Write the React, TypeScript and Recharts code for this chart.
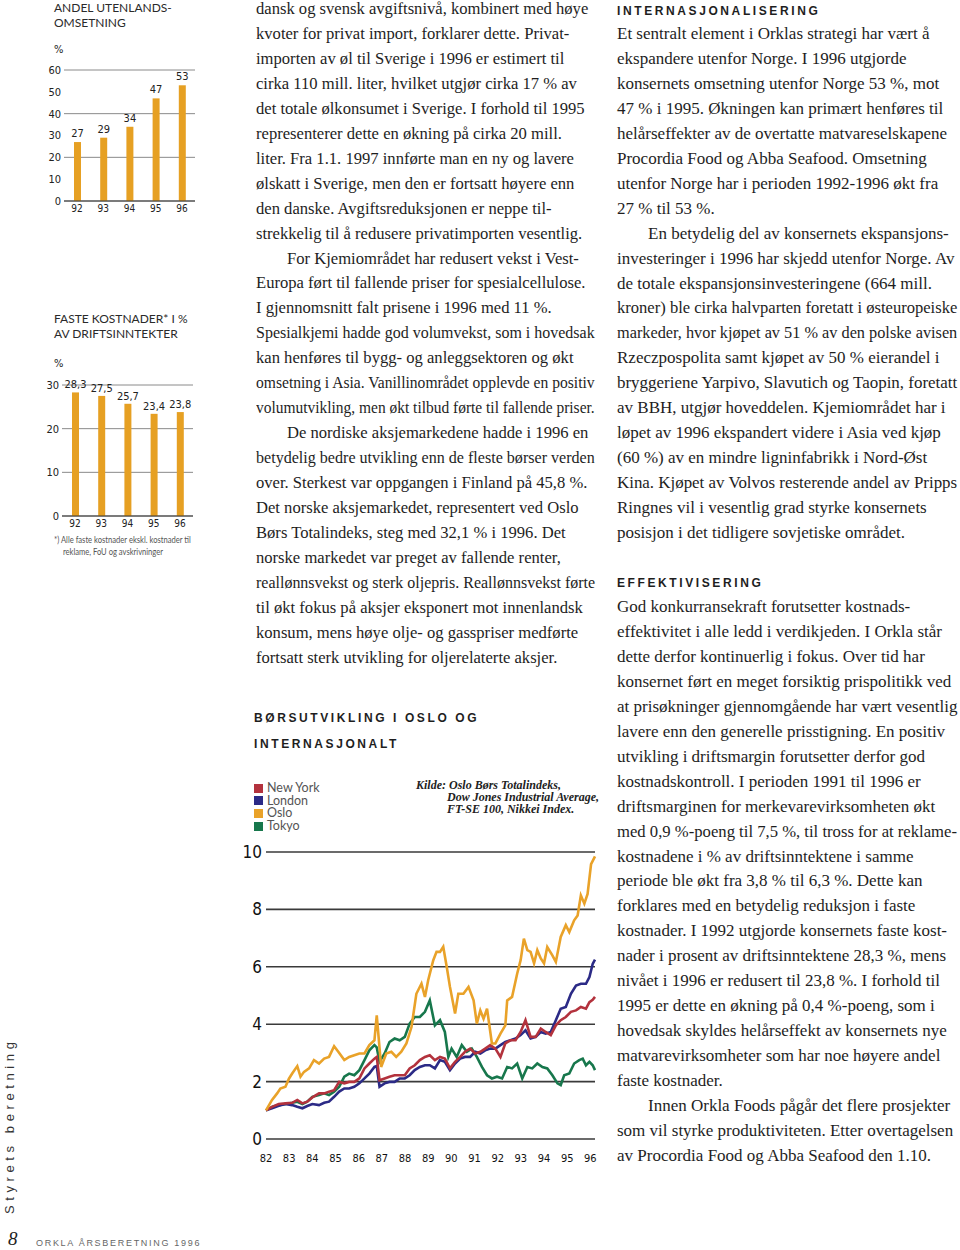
import React, { useLayoutEffect, useRef } from 'react';
import {
  BarChart,
  Bar,
  LineChart,
  Line,
  XAxis,
  YAxis,
  CartesianGrid,
  LabelList,
  ReferenceLine,
} from 'recharts';

// bar charts
const barYears = ['92', '93', '94', '95', '96'];
const foreignSales = [27, 29, 34, 47, 53];
const fixedCosts = [28.3, 27.5, 25.7, 23.4, 23.8];

// stock index chart (index, 1982 = 1)
const indexYears = [82, 83, 84, 85, 86, 87, 88, 89, 90, 91, 92, 93, 94, 95, 96];
const commonDates = [
  82.0, 82.26, 82.55, 82.84, 83.13, 83.35, 83.57, 83.78, 84.0, 84.29, 84.51, 84.72,
  84.94, 85.16, 85.38, 85.59, 85.81, 86.03, 86.25, 86.46, 86.68, 86.78,
  86.9, 87.12, 87.33, 87.55, 87.77, 87.99, 88.2, 88.42, 88.64, 88.86, 89.07, 89.29,
  89.51, 89.72, 89.94, 90.16, 90.38, 90.59, 90.81, 91.03, 91.25, 91.46, 91.68, 91.9,
  92.12, 92.33, 92.55, 92.77, 92.99, 93.2, 93.42, 93.64, 93.86, 94.07, 94.29,
  94.51, 94.72, 94.94, 95.16, 95.38, 95.59, 95.81, 95.96, 96.1, 96.2,
];
const london = [
  1.0, 1.07, 1.16, 1.22, 1.18, 1.12, 1.07, 1.15, 1.22, 1.18, 1.26, 1.3,
  1.47, 1.65, 1.76, 1.76, 1.82, 1.94, 2.11, 2.28, 2.51, 2.54,
  1.82, 1.94, 1.99, 1.99, 2.11, 2.11, 2.22, 2.4, 2.51, 2.57, 2.57, 2.46,
  2.75, 2.69, 2.4, 2.63, 2.8, 2.86, 2.86, 3.04, 2.98, 3.09, 3.15, 3.15,
  3.27, 3.38, 3.44, 3.5, 3.62, 3.79, 3.5, 3.56, 3.73, 3.67, 3.73,
  4.14, 4.54, 4.6, 5.06, 5.35, 5.41, 5.41, 5.64, 6.1, 6.25,
];
const newYork = [
  1.0, 1.12, 1.22, 1.24, 1.26, 1.36, 1.24, 1.3, 1.45, 1.59, 1.59, 1.65,
  1.7, 1.99, 1.94, 1.99, 1.99, 2.11, 2.46, 2.63, 2.8, 2.86,
  2.05, 2.11, 2.17, 2.22, 2.22, 2.22, 2.46, 2.57, 2.75, 2.86, 2.92, 2.75,
  2.86, 2.8, 2.46, 2.69, 2.86, 3.04, 3.15, 2.98, 3.04, 3.15, 3.27, 3.15,
  2.86, 3.33, 3.44, 3.44, 3.73, 4.14, 3.56, 3.56, 3.85, 3.73, 3.62,
  3.96, 4.14, 4.25, 4.43, 4.48, 4.6, 4.54, 4.77, 4.85, 4.95,
];
const tokyoDates = [
  82.0, 82.26, 82.55, 82.84, 83.13, 83.35, 83.57, 83.78, 84.0, 84.29, 84.51, 84.72,
  84.94, 85.16, 85.38, 85.59, 85.81, 86.03, 86.25, 86.46, 86.68, 86.78,
  86.9, 87.12, 87.33, 87.55, 87.77, 87.99, 88.2, 88.42, 88.64, 88.86, 89.07, 89.29,
  89.51, 89.72, 89.87, 90.01, 90.23, 90.45, 90.67, 90.88, 91.1, 91.32, 91.54,
  91.75, 91.97, 92.19, 92.41, 92.62, 92.84, 93.06, 93.28, 93.49, 93.71,
  93.93, 94.14, 94.36, 94.58, 94.72, 94.87, 95.09, 95.3, 95.52, 95.67,
  95.81, 95.96, 96.1, 96.2,
];
const tokyo = [
  1.0, 1.12, 1.18, 1.22, 1.26, 1.3, 1.22, 1.3, 1.47, 1.53, 1.59, 1.53,
  1.65, 1.82, 2.17, 2.28, 2.22, 2.4, 2.75, 3.09, 3.27, 3.19,
  2.69, 2.98, 3.38, 3.5, 3.44, 3.56, 4.02, 4.25, 4.25, 4.43, 4.83, 3.96,
  4.14, 3.73, 2.86, 3.15, 2.86, 3.27, 3.04, 3.15, 2.86, 2.51, 2.22,
  2.11, 2.17, 2.11, 2.51, 2.46, 2.63, 2.11, 2.51, 2.46, 2.63,
  2.51, 2.46, 2.22, 1.94, 1.88, 2.22, 2.28, 2.63, 2.75, 2.8,
  2.57, 2.69, 2.57, 2.4,
];
const osloDates = [
  82.0, 82.26, 82.48, 82.62, 82.84, 82.99, 83.13, 83.35, 83.49, 83.64,
  83.86, 84.07, 84.29, 84.51, 84.72, 84.94, 85.16, 85.38, 85.59, 85.81,
  86.03, 86.25, 86.46, 86.68, 86.78, 86.97, 87.19, 87.41, 87.62, 87.84,
  88.06, 88.28, 88.49, 88.71, 88.86, 89.0, 89.22, 89.36, 89.51, 89.65,
  89.8, 89.94, 90.16, 90.3, 90.52, 90.74, 90.96, 91.1, 91.25, 91.39,
  91.54, 91.75, 91.9, 92.12, 92.33, 92.41, 92.62, 92.84, 92.99, 93.13,
  93.28, 93.42, 93.57, 93.71, 93.86, 94.0, 94.14, 94.36, 94.51, 94.72,
  94.94, 95.09, 95.3, 95.45, 95.59, 95.74, 95.88, 96.03, 96.2,
];
const oslo = [
  1.0, 1.36, 1.59, 1.76, 1.82, 2.1, 2.28, 2.54, 2.17, 2.34,
  2.46, 2.75, 2.63, 2.8, 2.86, 3.23, 3.0, 2.75, 2.86, 2.92,
  2.98, 2.98, 3.27, 3.44, 4.31, 2.51, 2.98, 3.04, 2.86, 3.04,
  3.33, 3.9, 5.06, 5.41, 4.95, 5.53, 6.23, 6.52, 6.52, 6.7,
  6.0, 5.3, 4.37, 5.06, 5.06, 5.3, 4.83, 4.02, 4.48, 4.19,
  4.54, 3.33, 3.33, 3.67, 3.96, 4.83, 4.95, 5.76, 6.23, 6.98,
  6.58, 6.52, 6.12, 6.58, 6.29, 6.12, 6.69, 6.4, 6.17, 7.04,
  7.45, 7.21, 7.62, 7.79, 8.49, 8.2, 8.54, 9.58, 9.85,
];

const middleText = [
  'dansk og svensk avgiftsnivå, kombinert med høye',
  'kvoter for privat import, forklarer dette. Privat-',
  'importen av øl til Sverige i 1996 er estimert til',
  'cirka 110 mill. liter, hvilket utgjør cirka 17 % av',
  'det totale ølkonsumet i Sverige. I forhold til 1995',
  'representerer dette en økning på cirka 20 mill.',
  'liter. Fra 1.1. 1997 innførte man en ny og lavere',
  'ølskatt i Sverige, men den er fortsatt høyere enn',
  'den danske. Avgiftsreduksjonen er neppe til-',
  'strekkelig til å redusere privatimporten vesentlig.',
  'For Kjemiområdet har redusert vekst i Vest-',
  'Europa ført til fallende priser for spesialcellulose.',
  'I gjennomsnitt falt prisene i 1996 med 11 %.',
  'Spesialkjemi hadde god volumvekst, som i hovedsak',
  'kan henføres til bygg- og anleggsektoren og økt',
  'omsetning i Asia. Vanillinområdet opplevde en positiv',
  'volumutvikling, men økt tilbud førte til fallende priser.',
  'De nordiske aksjemarkedene hadde i 1996 en',
  'betydelig bedre utvikling enn de fleste børser verden',
  'over. Sterkest var oppgangen i Finland på 45,8 %.',
  'Det norske aksjemarkedet, representert ved Oslo',
  'Børs Totalindeks, steg med 32,1 % i 1996. Det',
  'norske markedet var preget av fallende renter,',
  'reallønnsvekst og sterk oljepris. Reallønnsvekst førte',
  'til økt fokus på aksjer eksponert mot innenlandsk',
  'konsum, mens høye olje- og gasspriser medførte',
  'fortsatt sterk utvikling for oljerelaterte aksjer.',
];

const interText = [
  'Et sentralt element i Orklas strategi har vært å',
  'ekspandere utenfor Norge. I 1996 utgjorde',
  'konsernets omsetning utenfor Norge 53 %, mot',
  '47 % i 1995. Økningen kan primært henføres til',
  'helårseffekter av de overtatte matvareselskapene',
  'Procordia Food og Abba Seafood. Omsetning',
  'utenfor Norge har i perioden 1992-1996 økt fra',
  '27 % til 53 %.',
  'En betydelig del av konsernets ekspansjons-',
  'investeringer i 1996 har skjedd utenfor Norge. Av',
  'de totale ekspansjonsinvesteringene (664 mill.',
  'kroner) ble cirka halvparten foretatt i østeuropeiske',
  'markeder, hvor kjøpet av 51 % av den polske avisen',
  'Rzeczpospolita samt kjøpet av 50 % eierandel i',
  'bryggeriene Yarpivo, Slavutich og Taopin, foretatt',
  'av BBH, utgjør hoveddelen. Kjemiområdet har i',
  'løpet av 1996 ekspandert videre i Asia ved kjøp',
  '(60 %) av en mindre ligninfabrikk i Nord-Øst',
  'Kina. Kjøpet av Volvos resterende andel av Pripps',
  'Ringnes vil i vesentlig grad styrke konsernets',
  'posisjon i det tidligere sovjetiske området.',
];

const effText = [
  'God konkurransekraft forutsetter kostnads-',
  'effektivitet i alle ledd i verdikjeden. I Orkla står',
  'dette derfor kontinuerlig i fokus. Over tid har',
  'konsernet ført en meget forsiktig prispolitikk ved',
  'at prisøkninger gjennomgående har vært vesentlig',
  'lavere enn den generelle prisstigning. En positiv',
  'utvikling i driftsmargin forutsetter derfor god',
  'kostnadskontroll. I perioden 1991 til 1996 er',
  'driftsmarginen for merkevarevirksomheten økt',
  'med 0,9 %-poeng til 7,5 %, til tross for at reklame-',
  'kostnadene i % av driftsinntektene i samme',
  'periode ble økt fra 3,8 % til 6,3 %. Dette kan',
  'forklares med en betydelig reduksjon i faste',
  'kostnader. I 1992 utgjorde konsernets faste kost-',
  'nader i prosent av driftsinntektene 28,3 %, mens',
  'nivået i 1996 er redusert til 23,8 %. I forhold til',
  '1995 er dette en økning på 0,4 %-poeng, som i',
  'hovedsak skyldes helårseffekt av konsernets nye',
  'matvarevirksomheter som har noe høyere andel',
  'faste kostnader.',
  'Innen Orkla Foods pågår det flere prosjekter',
  'som vil styrke produktiviteten. Etter overtagelsen',
  'av Procordia Food og Abba Seafood den 1.10.',
];

const ORANGE = '#e6a023';
const SERIF = '"Liberation Serif", "DejaVu Serif", serif';
const SANS = 'Lato, "Liberation Sans", sans-serif';
const NARROW = '"Liberation Sans Narrow", "DejaVu Sans Condensed", Lato, sans-serif';
const STEP = 24.95;

const toPoints = (dates: number[], values: number[]) =>
  dates.map((t, i) => ({ t, v: values[i] }));

const commaLabel = (v: any) => String(v).replace('.', ',');

// a single line of text, squeezed horizontally if it is wider than maxWidth
function FitText({ children, maxWidth, style }: { children: React.ReactNode; maxWidth: number; style: React.CSSProperties }) {
  const ref = useRef<HTMLDivElement>(null);
  useLayoutEffect(() => {
    const el = ref.current;
    if (!el) return;
    el.style.transform = '';
    const w = el.offsetWidth;
    if (w > maxWidth) {
      el.style.transformOrigin = 'left center';
      el.style.transform = `scaleX(${maxWidth / w})`;
    }
  });
  return (
    <div ref={ref} style={{ position: 'absolute', whiteSpace: 'nowrap', width: 'max-content', ...style }}>
      {children}
    </div>
  );
}

function TextBlock({ lines, x, y, indents, size, maxRight }: { lines: string[]; x: number; y: number; indents: number[]; size: number; maxRight: number }) {
  return (
    <>
      {lines.map((s, i) => {
        const left = x + (indents.includes(i) ? 31 : 0);
        return (
          <FitText
            key={i}
            maxWidth={maxRight - left}
            style={{
              left,
              top: y + i * STEP - 12,
              fontFamily: SERIF,
              fontSize: size,
              lineHeight: '22px',
              color: '#1e1e1e',
            }}
          >
            {s}
          </FitText>
        );
      })}
    </>
  );
}

function Heading({ text, x, y }: { text: string; x: number; y: number }) {
  return (
    <div
      style={{
        position: 'absolute',
        left: x,
        top: y - 8,
        fontFamily: '"Liberation Sans", sans-serif',
        fontWeight: 700,
        fontSize: 12,
        letterSpacing: 2.6,
        lineHeight: '16px',
        color: '#1e1e1e',
        whiteSpace: 'nowrap',
      }}
    >
      {text}
    </div>
  );
}

const abs = (x: number, y: number): React.CSSProperties => ({ position: 'absolute', left: x, top: y });

export default function App() {
  const shareData = barYears.map((year, i) => ({ year, v: foreignSales[i] }));
  const costData = barYears.map((year, i) => ({ year, v: fixedCosts[i] }));

  const series = [
    { name: 'Tokyo', color: '#17774c', data: toPoints(tokyoDates, tokyo) },
    { name: 'London', color: '#2b2a86', data: toPoints(commonDates, london) },
    { name: 'New York', color: '#b3323d', data: toPoints(commonDates, newYork) },
    { name: 'Oslo', color: '#e9a229', data: toPoints(osloDates, oslo) },
  ];
  const legend = ['New York', 'London', 'Oslo', 'Tokyo'];

  const smallTitle: React.CSSProperties = {
    fontFamily: SANS,
    fontSize: 12,
    lineHeight: '15px',
    color: '#2a2a2a',
    whiteSpace: 'nowrap',
  };
  const barTick = { fontSize: 11, fontFamily: NARROW, fill: '#222' };

  return (
    <div style={{ position: 'absolute', left: 0, top: 0, width: 960, height: 1250, background: '#fff', overflow: 'hidden' }}>
      {/* chart 1 */}
      <div style={{ ...abs(54, 0), ...smallTitle }}>
        ANDEL UTENLANDS-
        <br />
        OMSETNING
      </div>
      <div style={{ ...abs(54, 43), fontFamily: NARROW, fontSize: 11, color: '#222' }}>%</div>
      <div style={abs(40, 60)}>
        <BarChart width={160} height={161} data={shareData} margin={{ top: 10, right: 5, bottom: 0, left: 0 }}>
          <CartesianGrid vertical={false} stroke="#8a8a8a" strokeWidth={1} />
          <XAxis dataKey="year" axisLine={false} tickLine={false} height={20} tickSize={2} tickMargin={2} tick={{ ...barTick, fontSize: 10 }} />
          <YAxis domain={[0, 60]} ticks={[0, 10, 20, 30, 40, 50, 60]} width={24} axisLine={false} tickLine={false} tickSize={2} tickMargin={1} tick={barTick} />
          <ReferenceLine y={0} stroke="#333" strokeWidth={1.2} />
          <Bar dataKey="v" fill={ORANGE} barSize={7} isAnimationActive={false}>
            <LabelList dataKey="v" position="top" offset={5} style={{ fontSize: 11, fontFamily: NARROW, fill: '#222' }} />
          </Bar>
        </BarChart>
      </div>

      {/* chart 2 */}
      <div style={{ ...abs(54, 311), ...smallTitle }}>
        FASTE KOSTNADER* I %
        <br />
        AV DRIFTSINNTEKTER
      </div>
      <div style={{ ...abs(54, 357), fontFamily: NARROW, fontSize: 11, color: '#222' }}>%</div>
      <div style={abs(38, 370)}>
        <BarChart width={160} height={164} data={costData} margin={{ top: 15, right: 5, bottom: 0, left: 0 }}>
          <CartesianGrid vertical={false} stroke="#8a8a8a" strokeWidth={1} />
          <XAxis dataKey="year" axisLine={false} tickLine={false} height={18} tickSize={2} tickMargin={2} tick={{ ...barTick, fontSize: 10 }} />
          <YAxis domain={[0, 30]} ticks={[0, 10, 20, 30]} width={24} axisLine={false} tickLine={false} tickSize={2} tickMargin={1} tick={barTick} />
          <ReferenceLine y={0} stroke="#333" strokeWidth={1.2} />
          <Bar dataKey="v" fill={ORANGE} barSize={7} isAnimationActive={false}>
            <LabelList dataKey="v" position="top" offset={4} formatter={commaLabel} style={{ fontSize: 11, fontFamily: NARROW, fill: '#222' }} />
          </Bar>
        </BarChart>
      </div>
      <FitText maxWidth={137} style={{ left: 54, top: 534, fontFamily: SANS, fontSize: 9.5, lineHeight: '12px', color: '#555' }}>
        *) Alle faste kostnader ekskl. kostnader til
      </FitText>
      <FitText maxWidth={100} style={{ left: 63, top: 546, fontFamily: SANS, fontSize: 9.5, lineHeight: '12px', color: '#555' }}>
        reklame, FoU og avskrivninger
      </FitText>

      {/* middle column */}
      <TextBlock lines={middleText} x={256} y={10} indents={[10, 17]} size={16.6} maxRight={595} />

      <Heading text="BØRSUTVIKLING I OSLO OG" x={254} y={718} />
      <Heading text="INTERNASJONALT" x={254} y={744} />

      {legend.map((name, i) => {
        const s = series.find((d) => d.name === name)!;
        return (
          <div key={name} style={{ ...abs(254, 782 + i * 12.7), display: 'flex', alignItems: 'center', height: 12 }}>
            <span style={{ width: 9, height: 9, background: s.color, display: 'inline-block', marginRight: 4 }} />
            <span style={{ fontFamily: SANS, fontSize: 12.5, color: '#555', lineHeight: '12px' }}>{name}</span>
          </div>
        );
      })}
      <div
        style={{
          ...abs(416, 779),
          fontFamily: SERIF,
          fontStyle: 'italic',
          fontWeight: 700,
          fontSize: 12,
          lineHeight: '12px',
          color: '#222',
          whiteSpace: 'nowrap',
        }}
      >
        Kilde: Oslo Børs Totalindeks,
        <br />
        <span style={{ paddingLeft: 31 }}>Dow Jones Industrial Average,</span>
        <br />
        <span style={{ paddingLeft: 31 }}>FT-SE 100, Nikkei Index.</span>
      </div>

      <div style={abs(230, 840)}>
        <LineChart width={380} height={330} margin={{ top: 12, right: 15, bottom: 0, left: 0 }}>
          <CartesianGrid vertical={false} stroke="#3a3a3a" strokeWidth={1.6} />
          <XAxis
            type="number"
            dataKey="t"
            domain={[82, 96.2]}
            ticks={indexYears}
            interval={0}
            axisLine={false}
            tickLine={false}
            height={31}
            tickMargin={9}
            tick={{ fontSize: 11, fontFamily: NARROW, fill: '#111' }}
          />
          <YAxis
            type="number"
            domain={[0, 10]}
            ticks={[0, 2, 4, 6, 8, 10]}
            width={36}
            axisLine={false}
            tickLine={false}
            tickSize={4}
            tickMargin={0}
            tick={{ fontSize: 17, fontFamily: NARROW, fill: '#111' }}
          />
          {series.map((s) => (
            <Line
              key={s.name}
              data={s.data}
              dataKey="v"
              name={s.name}
              type="linear"
              stroke={s.color}
              strokeWidth={2.6}
              dot={false}
              isAnimationActive={false}
            />
          ))}
        </LineChart>
      </div>

      {/* right column */}
      <Heading text="INTERNASJONALISERING" x={617} y={11} />
      <TextBlock lines={interText} x={617} y={35} indents={[8]} size={17} maxRight={957} />
      <Heading text="EFFEKTIVISERING" x={617} y={583} />
      <TextBlock lines={effText} x={617} y={608} indents={[20]} size={17} maxRight={957} />

      {/* side and footer */}
      <div
        style={{
          position: 'absolute',
          left: 2,
          top: 1214,
          transform: 'rotate(-90deg)',
          transformOrigin: 'left top',
          fontFamily: '"Liberation Sans", sans-serif',
          fontSize: 13,
          letterSpacing: 4.6,
          lineHeight: '16px',
          color: '#333',
          whiteSpace: 'nowrap',
        }}
      >
        Styrets beretning
      </div>
      <div style={{ ...abs(8, 1229), fontFamily: SERIF, fontStyle: 'italic', fontSize: 19, lineHeight: '20px', color: '#222' }}>8</div>
      <div
        style={{
          ...abs(36, 1237),
          fontFamily: '"Liberation Sans", sans-serif',
          fontSize: 9,
          letterSpacing: 1.7,
          lineHeight: '12px',
          color: '#666',
          whiteSpace: 'nowrap',
        }}
      >
        ORKLA ÅRSBERETNING 1996
      </div>
    </div>
  );
}
